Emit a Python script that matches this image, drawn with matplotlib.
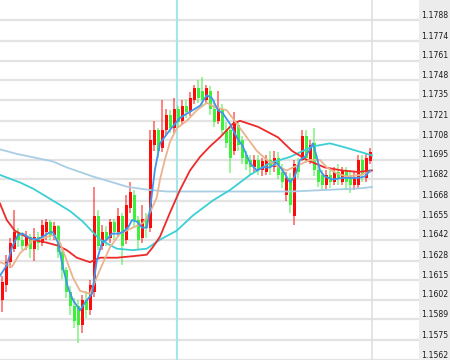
import numpy as np
import matplotlib
matplotlib.use('Agg')
from matplotlib import pyplot as plt
from matplotlib import transforms

# price axis labels (right side)
tick_labels = ['1.1788', '1.1774', '1.1761', '1.1748', '1.1735', '1.1721', '1.1708', '1.1695', '1.1682',
               '1.1668', '1.1655', '1.1642', '1.1628', '1.1615', '1.1602', '1.1589', '1.1575', '1.1562']

# candles, prices in 1/10000 above 1.0
opens = [11602, 11612, 11627, 11636, 11647, 11642, 11638, 11644, 11636, 11644, 11640, 11647, 11654, 11645,
         11651, 11634, 11622, 11607, 11598, 11598, 11585, 11602, 11595, 11607, 11658, 11638, 11647, 11643,
         11654, 11647, 11658, 11642, 11663, 11672, 11655, 11643, 11656, 11650, 11705, 11715, 11703, 11715,
         11725, 11716, 11729, 11721, 11731, 11727, 11735, 11743, 11741, 11735, 11741, 11729, 11721, 11729,
         11715, 11715, 11701, 11718, 11708, 11698, 11695, 11690, 11695, 11688, 11687, 11695, 11690, 11696,
         11687, 11672, 11683, 11658, 11692, 11695, 11711, 11695, 11706, 11688, 11685, 11678, 11685, 11680,
         11687, 11680, 11688, 11684, 11678, 11678, 11695, 11683, 11694]
closes = [11614, 11627, 11640, 11647, 11642, 11638, 11644, 11636, 11644, 11640, 11652, 11654, 11645, 11651,
          11634, 11622, 11607, 11598, 11588, 11585, 11602, 11595, 11612, 11658, 11638, 11647, 11642, 11654,
          11647, 11658, 11638, 11665, 11674, 11655, 11642, 11656, 11650, 11708, 11715, 11701, 11715, 11725,
          11716, 11729, 11720, 11731, 11727, 11736, 11743, 11736, 11735, 11743, 11729, 11720, 11729, 11715,
          11706, 11696, 11720, 11705, 11696, 11692, 11690, 11695, 11688, 11694, 11695, 11690, 11696, 11685,
          11680, 11683, 11665, 11692, 11687, 11711, 11696, 11705, 11688, 11680, 11678, 11685, 11680, 11687,
          11682, 11688, 11680, 11678, 11683, 11695, 11685, 11696, 11700]
highs = [11618, 11632, 11643, 11662, 11650, 11647, 11648, 11646, 11650, 11647, 11655, 11656, 11655, 11654,
         11652, 11636, 11624, 11611, 11603, 11602, 11605, 11608, 11615, 11677, 11662, 11652, 11651, 11656,
         11656, 11663, 11660, 11672, 11680, 11675, 11658, 11665, 11660, 11715, 11721, 11716, 11735, 11729,
         11728, 11736, 11731, 11735, 11735, 11740, 11745, 11748, 11750, 11745, 11744, 11735, 11741, 11732,
         11720, 11717, 11727, 11721, 11711, 11701, 11698, 11698, 11698, 11696, 11698, 11701, 11701, 11700,
         11692, 11687, 11686, 11695, 11696, 11715, 11715, 11708, 11716, 11692, 11688, 11688, 11688, 11690,
         11692, 11690, 11690, 11688, 11687, 11698, 11698, 11699, 11703]
lows = [11594, 11607, 11623, 11634, 11637, 11635, 11635, 11630, 11628, 11635, 11638, 11642, 11642, 11642,
        11630, 11616, 11603, 11592, 11583, 11573, 11580, 11590, 11592, 11604, 11635, 11635, 11638, 11640,
        11642, 11644, 11625, 11639, 11660, 11650, 11636, 11640, 11643, 11647, 11701, 11696, 11700, 11711,
        11713, 11713, 11716, 11718, 11723, 11724, 11732, 11733, 11731, 11732, 11725, 11717, 11719, 11712,
        11703, 11686, 11698, 11701, 11692, 11688, 11685, 11687, 11685, 11684, 11685, 11685, 11687, 11682,
        11676, 11668, 11660, 11652, 11683, 11694, 11693, 11692, 11684, 11677, 11675, 11675, 11676, 11678,
        11678, 11678, 11675, 11673, 11675, 11676, 11680, 11680, 11692]

# moving averages: (bar position, price)
ma_blue_x = [-0.5, 1.2, 2.5, 4, 5.2, 7, 8.7, 10.2, 12, 12.7, 14, 15.2, 16.5, 17.7, 19.5, 20.7, 22.5, 23.7, 25,
             26.2, 27.5, 29, 30.2, 31.5, 32.5, 33.7, 35, 36.2, 37, 38.2, 39.5, 42, 44.5, 47, 49.5, 51.2, 52.5,
             54, 55.2, 57, 58.7, 60.2, 62, 63.7, 65.2, 67, 68.7, 70.2, 72, 73.2, 74.5, 75.7, 77, 77.7, 78.7,
             79.5, 80.7, 82.7, 85, 87, 89, 90.7, 92]
ma_blue_y = [11618, 11625, 11637, 11645, 11646, 11643, 11642, 11644, 11647, 11647, 11640, 11624, 11610, 11602,
             11595, 11600, 11606, 11628, 11640, 11642, 11646, 11646, 11647, 11650, 11655, 11654, 11650, 11650,
             11662, 11688, 11706, 11715, 11723, 11727, 11731, 11738, 11736, 11728, 11726, 11719, 11710, 11704,
             11693, 11688, 11690, 11690, 11693, 11688, 11680, 11684, 11695, 11697, 11702, 11706, 11697, 11688,
             11684, 11682, 11683, 11683, 11683, 11684, 11688]
ma_tan_x = [-0.5, 2.5, 4.5, 6.2, 7.7, 10.2, 12.7, 14.5, 16.2, 17.7, 19.5, 22, 24.5, 27, 29.5, 32.7, 35.2, 37,
            38.7, 39.5, 40.7, 42, 43.7, 46.2, 48.7, 51.2, 53.2, 56.2, 58.7, 61.2, 63.7, 66.2, 68.7, 71.2, 72.7,
            74.5, 77, 79.5, 81.2, 83.7, 86.2, 89.5, 92]
ma_tan_y = [11627, 11624, 11633, 11637, 11642, 11643, 11645, 11640, 11628, 11617, 11608, 11606, 11622, 11637,
            11646, 11650, 11653, 11660, 11670, 11682, 11695, 11707, 11716, 11721, 11728, 11733, 11730, 11728,
            11719, 11710, 11701, 11695, 11691, 11688, 11690, 11692, 11695, 11695, 11690, 11686, 11684, 11685,
            11687]
ma_red_x = [-0.5, 1.2, 3.2, 5.2, 7.7, 11.2, 14, 16.2, 18.7, 22, 24.5, 28.7, 32.7, 36.2, 37.7, 39.5, 42, 44.5,
            47, 49.5, 52, 54.5, 57.7, 59.5, 64, 69, 72.5, 76.2, 80.7, 85, 89, 92.5]
ma_red_y = [11666, 11655, 11648, 11645, 11642, 11640, 11638, 11635, 11630, 11627, 11630, 11630, 11631, 11632,
            11637, 11644, 11660, 11675, 11688, 11697, 11704, 11710, 11719, 11721, 11717, 11710, 11701, 11695,
            11690, 11688, 11687, 11688]
ma_cyan_x = [-0.5, 4.5, 7.7, 12.7, 17, 20.2, 24.5, 28.7, 32.7, 36.2, 39.5, 43.7, 47.7, 52.7, 57, 62, 67, 72,
             77.7, 82, 86.2, 92.5]
ma_cyan_y = [11685, 11680, 11676, 11668, 11661, 11654, 11642, 11636, 11635, 11636, 11642, 11648, 11658, 11668,
             11675, 11685, 11693, 11697, 11704, 11706, 11703, 11698]
ma_lblue_x = [-0.5, 3.7, 12.7, 16.2, 22.7, 26.5, 31.5, 37, 41.2, 55.7, 64, 72.5, 80.7, 89, 92.5]
ma_lblue_y = [11702, 11699, 11694, 11690, 11684, 11681, 11677, 11675, 11674, 11674, 11674, 11674, 11675, 11676,
              11677]

cursor_bar = 43.75
shift_bar = 92.6


def px(v):
    return np.array(v) / 10000.0


fig = plt.figure(figsize=(4.5, 3.6), dpi=100)
fig.patch.set_facecolor('white')
ax = fig.add_axes([0, 0, 419 / 450, 1])
ax.set_facecolor('white')

levels = [float(t) for t in tick_labels]
for lv in levels:
    ax.axhline(lv, color='#e3e3e3', lw=1.6, zorder=0)

x = np.arange(len(opens))
o, c, h, l = px(opens), px(closes), px(highs), px(lows)
up = c >= o
cols = np.where(up, '#ff0a0a', '#3cf03c')
ax.vlines(x, l, h, colors=cols, lw=1.3, alpha=0.55, zorder=2)
ax.bar(x, np.where(np.abs(c - o) < 0.00003, 0.00003, c - o), bottom=o, width=0.75,
       color=cols, zorder=3, linewidth=0)

ax.plot(ma_lblue_x, px(ma_lblue_y), color='#a9cde3', lw=1.3, zorder=4)
ax.plot(ma_cyan_x, px(ma_cyan_y), color='#3ccfd6', lw=1.3, zorder=4)
ax.plot(ma_red_x, px(ma_red_y), color='#ee2a2a', lw=1.3, zorder=4)
ax.plot(ma_tan_x, px(ma_tan_y), color='#eab48c', lw=1.3, zorder=5)
ax.plot(ma_blue_x, px(ma_blue_y), color='#3f97ef', lw=1.3, zorder=6)

ax.axvline(cursor_bar, color='#a6e6e6', lw=1.5, zorder=1)
ax.axvline(shift_bar, color='#e0e0e0', lw=1.2, zorder=1)

ax.set_xlim(-0.5, 104.25)
ax.set_ylim(1.1562, 1.18013)
ax.set_xticks([])
ax.set_yticks([])
for s in ax.spines.values():
    s.set_visible(False)

# right price panel
pan = fig.add_axes([419 / 450, 0, 31 / 450, 1])
pan.set_facecolor('#ececec')
pan.set_xticks([])
pan.set_yticks([])
for s in pan.spines.values():
    s.set_visible(False)
pan.set_ylim(ax.get_ylim())
pan.set_xlim(0, 1)
off = transforms.offset_copy(pan.transData, fig=fig, x=0, y=5, units='dots')
for lv, t in zip(levels, tick_labels):
    pan.text(0.08, lv, t, transform=off, fontsize=5.6, color='#1a1a1a', va='center', ha='left')

fig.savefig('out.png', dpi=100)
